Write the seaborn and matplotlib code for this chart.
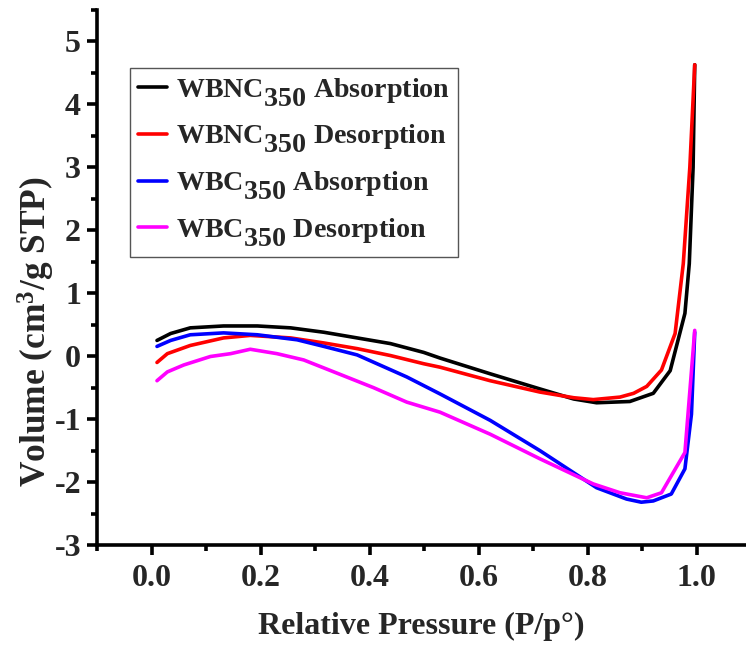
import numpy as np
import pandas as pd
import matplotlib
matplotlib.use("Agg")
import matplotlib.pyplot as plt
import matplotlib._mathtext as _mt
from matplotlib.lines import Line2D
import seaborn as sns

# ---- data ----
wbnc_abs_x = [0.010, 0.035, 0.071, 0.132, 0.194, 0.255, 0.316, 0.377, 0.438, 0.499, 0.529,
              0.621, 0.712, 0.774, 0.816, 0.877, 0.920, 0.951, 0.978, 0.986, 0.993, 0.996]
wbnc_abs_y = [0.25, 0.36, 0.45, 0.48, 0.48, 0.45, 0.38, 0.29, 0.20, 0.06, -0.03,
              -0.28, -0.52, -0.68, -0.74, -0.72, -0.59, -0.23, 0.68, 1.47, 3.0, 4.63]

wbnc_des_x = [0.010, 0.029, 0.071, 0.132, 0.181, 0.255, 0.316, 0.377, 0.438, 0.499, 0.529,
              0.621, 0.712, 0.774, 0.810, 0.859, 0.884, 0.908, 0.935, 0.960, 0.975, 0.987, 0.996]
wbnc_des_y = [-0.10, 0.04, 0.17, 0.29, 0.33, 0.29, 0.21, 0.12, 0.01, -0.12, -0.175,
              -0.39, -0.57, -0.66, -0.69, -0.65, -0.59, -0.48, -0.22, 0.36, 1.47, 3.0, 4.63]

wbc_abs_x = [0.010, 0.035, 0.071, 0.132, 0.194, 0.267, 0.316, 0.377, 0.468, 0.529,
             0.621, 0.712, 0.816, 0.871, 0.898, 0.920, 0.953, 0.978, 0.990, 0.996]
wbc_abs_y = [0.155, 0.25, 0.34, 0.37, 0.34, 0.26, 0.155, 0.02, -0.33, -0.60,
             -1.02, -1.50, -2.09, -2.27, -2.32, -2.30, -2.19, -1.79, -0.92, 0.38]

wbc_des_x = [0.010, 0.029, 0.059, 0.108, 0.145, 0.181, 0.230, 0.279, 0.346, 0.407, 0.468,
             0.529, 0.621, 0.712, 0.810, 0.859, 0.908, 0.935, 0.978, 0.996]
wbc_des_y = [-0.39, -0.25, -0.14, -0.005, 0.04, 0.11, 0.04, -0.06, -0.29, -0.50, -0.73,
             -0.89, -1.24, -1.63, -2.03, -2.17, -2.25, -2.17, -1.53, 0.41]

series_labels = [r"WBNC$_{\mathbf{350}}$ Absorption", r"WBNC$_{\mathbf{350}}$ Desorption",
                 r"WBC$_{\mathbf{350}}$ Absorption", r"WBC$_{\mathbf{350}}$ Desorption"]
series_colors = ["#000000", "#ff0000", "#0000ff", "#ff00ff"]

x_ticks = [0.0, 0.2, 0.4, 0.6, 0.8, 1.0]
y_ticks = [-3, -2, -1, 0, 1, 2, 3, 4, 5]

# ---- styling ----
sns.set_style("ticks")
plt.rcParams["font.family"] = ["Liberation Serif", "DejaVu Serif"]
plt.rcParams["font.weight"] = "bold"
plt.rcParams["mathtext.fontset"] = "custom"
plt.rcParams["mathtext.rm"] = "Liberation Serif:bold"
plt.rcParams["mathtext.bf"] = "Liberation Serif:bold"
plt.rcParams["mathtext.it"] = "Liberation Serif:bold"

fig = plt.figure(figsize=(7.46, 6.48), dpi=100)
ax = fig.add_axes([97 / 746, 103 / 648, 649 / 746, 535 / 648])

frames = []
for xs, ys, lab in zip([wbnc_abs_x, wbnc_des_x, wbc_abs_x, wbc_des_x],
                       [wbnc_abs_y, wbnc_des_y, wbc_abs_y, wbc_des_y], series_labels):
    frames.append(pd.DataFrame({"x": xs, "y": ys, "series": lab}))
df = pd.concat(frames, ignore_index=True)

sns.lineplot(data=df, x="x", y="y", hue="series", hue_order=series_labels,
             palette=series_colors, sort=False, linewidth=2.6, ax=ax, legend=False)

ax.set_xlim(-0.1, 1.09)
ax.set_ylim(-3, 5.5)
ax.set_xticks(x_ticks)
ax.set_xticklabels([f"{v:.1f}" for v in x_ticks])
ax.set_yticks(y_ticks)
ax.set_yticklabels([str(v) for v in y_ticks])
ax.set_xticks(np.arange(-0.1, 1.09, 0.1), minor=True)
ax.set_yticks(np.arange(-3, 5.51, 0.5), minor=True)

for s in ["top", "right"]:
    ax.spines[s].set_visible(False)
for s in ["left", "bottom"]:
    ax.spines[s].set_linewidth(2.6)
    ax.spines[s].set_color("black")

ax.tick_params(axis="both", which="major", direction="out", length=7.5, width=2.6,
               labelsize=23, color="black", pad=4)
ax.tick_params(axis="x", which="major", pad=6)
ax.tick_params(axis="both", which="minor", direction="out", length=4, width=2.6, color="black")
for lbl in ax.get_xticklabels() + ax.get_yticklabels():
    lbl.set_fontweight("bold")

ax.set_xlabel("Relative Pressure (P/p°)", fontsize=23, fontweight="bold", labelpad=14)
ax.set_ylabel(r"Volume (cm$^{\mathbf{3}}$/g STP)", fontsize=25.5, fontweight="bold")
ax.yaxis.set_label_coords(-0.062, 0.398)

# draw once so the axis label keeps a normal-size superscript
fig.canvas.draw()
# legend subscripts in the reference are full-size and clearly lowered
_mt.SHRINK_FACTOR = 1.0
_mt.FontConstantsBase.sub1 = 0.75

handles = [Line2D([0], [0], color=c, lw=2.6) for c in series_colors]
leg = fig.legend(handles, series_labels, loc="upper left",
                 bbox_to_anchor=(130 / 746, 1 - 68 / 648), bbox_transform=fig.transFigure,
                 borderaxespad=0, fancybox=False, frameon=True,
                 handlelength=1.05, handletextpad=0.32, labelspacing=0.5,
                 borderpad=0.28, prop={"weight": "bold", "size": 20.2})
leg.get_frame().set_edgecolor("#555555")
leg.get_frame().set_linewidth(1.0)
leg.get_frame().set_alpha(1)

fig.savefig("out.png", dpi=100)
